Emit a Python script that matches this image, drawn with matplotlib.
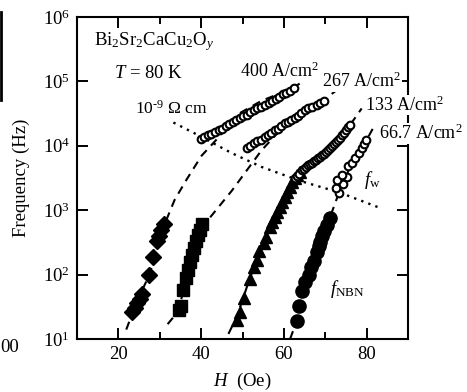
import matplotlib
matplotlib.use("Agg")
import matplotlib.pyplot as plt
from matplotlib.lines import Line2D

plt.rcParams['font.family'] = ['Liberation Serif', 'DejaVu Serif']
plt.rcParams['mathtext.fontset'] = 'custom'
plt.rcParams['mathtext.rm'] = 'Liberation Serif'
plt.rcParams['mathtext.it'] = 'Liberation Serif:italic'
plt.rcParams['mathtext.bf'] = 'Liberation Serif:bold'

# ---- data (H in Oe, f in Hz) ----
# f_NBN, filled markers
diam_H = [23.3, 23.9, 24.5, 25.2, 25.8, 27.5, 28.4, 29.3, 29.9, 30.4, 31.0]
diam_f = [26, 30, 36, 42, 50, 100, 185, 330, 400, 500, 600]
sq_H = [34.6, 35.1, 35.6, 36.3, 36.8, 37.3, 37.8, 38.3, 38.8, 39.3, 39.8, 40.3]
sq_f = [28, 33, 58, 88, 120, 155, 200, 260, 330, 410, 500, 600]
tri_H = [48.6, 49.3, 50.3, 51.7, 52.7, 53.4, 54.1, 55.1, 55.8, 56.6, 57.2, 57.8, 58.4,
         59.0, 59.6, 60.2, 60.8, 61.4, 62.0, 62.6, 63.2, 63.8]
tri_f = [20, 26, 43, 85, 130, 170, 230, 315, 390, 540, 650, 790, 950,
         1130, 1350, 1600, 1950, 2300, 2700, 3150, 3500, 3900]
fc_H = [63.1, 63.6, 64.3, 65.0, 66.0, 66.5, 67.2, 67.9, 68.4, 68.7, 69.2, 69.6, 70.4, 71.1]
fc_f = [19, 32, 55, 76, 100, 130, 160, 228, 280, 325, 400, 480, 590, 760]

# f_w, open circles
o400_H = [40.0, 40.8, 41.6, 42.5, 43.3, 44.2, 45.0, 45.9, 46.8, 47.6, 48.5, 49.3, 50.2, 51.0,
          51.9, 52.8, 53.6, 54.5, 55.4, 56.3, 57.1, 58.0, 58.9, 59.8, 60.6, 61.5, 62.4]
o400_f = [12600, 13500, 14500, 15500, 16500, 17500, 18500, 20500, 22000, 23500, 25000, 27000,
          29000, 30500, 33000, 35500, 38000, 40500, 43500, 47000, 50000, 54000, 58000, 63000,
          67000, 72000, 78000]
o267_H = [51.0, 51.9, 52.9, 53.6, 54.4, 55.4, 56.2, 57.0, 57.8, 58.6, 59.4, 60.2, 61.0,
          61.8, 62.6, 63.4, 64.2, 65.0, 65.9, 66.8, 67.9, 68.8, 69.6]
o267_f = [9100, 10000, 11000, 11800, 12500, 13500, 14800, 16000, 17400, 18500, 20000, 22400,
          23500, 25500, 27500, 29500, 32000, 35500, 38000, 40500, 42500, 46000, 50000]
o133_H = [62.6, 63.2, 63.6, 64.3, 64.8, 65.3, 65.8, 66.2, 66.7, 67.2, 67.7, 68.2, 68.7,
          69.2, 69.7, 70.1, 70.6, 71.1, 71.6, 72.1, 72.6, 73.0, 73.5, 74.0, 74.5, 75.0, 75.5, 75.9]
o133_f = [3150, 3400, 3650, 4150, 4400, 4700, 4950, 5250, 5500, 5750, 6100, 6450, 6750,
          7100, 7500, 7900, 8500, 9100, 9800, 10500, 11400, 12300, 13400, 14500, 15900, 17400,
          19300, 21400]
o67_H = [73.3, 72.5, 74.2, 72.8, 75.2, 74.0, 75.4, 76.4, 77.1, 78.1, 78.8, 79.4, 79.9]
o67_f = [1860, 2240, 2570, 2950, 3300, 3550, 4900, 5400, 6400, 7700, 9200, 10500, 12300]

# dashed guide curves
c400_H = [21.9, 24.4, 27.5, 31.1, 33.6, 36.5, 40.1, 44.2, 49.1, 54.6, 58.5, 62.6, 65.5]
c400_f = [14, 37, 100, 590, 1450, 3000, 7000, 13500, 31500, 50000, 63000, 83000, 107000]
c267_H = [31.9, 34.5, 37.7, 41.3, 47.4, 54.6, 59.5, 64.3, 69.2, 73.3]
c267_f = [17, 27, 190, 660, 2000, 8500, 18600, 31600, 49000, 77600]
c133_H = [46.6, 48.6, 51.7, 56.6, 61.4, 64.3, 69.2, 74.0, 76.4, 78.8]
c133_f = [12, 22, 85, 540, 2300, 4470, 7600, 14500, 22900, 38000]
c67_H = [61.5, 63.1, 65.0, 67.2, 69.2, 71.1, 73.3, 76.4, 79.8, 81.6]
c67_f = [10, 19, 76, 160, 400, 760, 1860, 5400, 11700, 19000]

# 10^-9 Ohm cm criterion (dotted)
crit_H = [33.3, 39.4, 47.4, 54.6, 64.3, 73.3, 83.0]
crit_f = [23000, 14500, 7700, 4700, 2800, 1900, 1100]

fig = plt.figure(figsize=(4.67, 3.92), dpi=100)
ax = fig.add_axes([77/467, 1-339/392, (408-77)/467, (339-17)/392])

dash = dict(color='black', lw=1.5, ls=(0, (4, 3)))
for H, f in [(c400_H, c400_f), (c267_H, c267_f), (c133_H, c133_f), (c67_H, c67_f)]:
    ax.plot(H, f, **dash)
ax.plot(crit_H, crit_f, color='black', lw=1.7, ls=(0, (1, 2.2)))

ax.plot(diam_H, diam_f, 'D', color='black', ms=8.5, ls='none')
ax.plot(sq_H, sq_f, 's', color='black', ms=8.5, ls='none')
ax.plot(tri_H, tri_f, '^', color='black', ms=9, ls='none')
ax.plot(fc_H, fc_f, 'o', color='black', ms=9.5, ls='none')
for H, f in [(o400_H, o400_f), (o267_H, o267_f), (o133_H, o133_f), (o67_H, o67_f)]:
    ax.plot(H, f, 'o', mfc='white', mec='black', mew=1.5, ms=5.5, ls='none')

ax.set_yscale('log')
ax.set_xlim(10, 90)
ax.set_ylim(10, 1e6)
ax.set_xticks([20, 40, 60, 80])
ax.set_xticks([10, 30, 50, 70, 90], minor=True)
ax.yaxis.set_minor_locator(matplotlib.ticker.NullLocator())
ax.tick_params(which='both', direction='in', top=True, right=True, labelsize=13.5, width=1.4, pad=5)
ax.tick_params(which='major', length=8)
ax.tick_params(which='minor', length=5)
for s in ax.spines.values():
    s.set_linewidth(1.5)

ax.set_xlabel(r'$H$  (Oe)', fontsize=13.5, labelpad=6)
ax.set_ylabel('Frequency (Hz)', fontsize=13.5, labelpad=9)

fs = 13.5
lfs = 13
ax.text(14.2, 4.1e5, r'Bi$_2$Sr$_2$CaCu$_2$O$_y$', fontsize=fs, va='center', ha='left')
ax.text(19.0, 1.32e5, r'$T$ = 80 K', fontsize=fs, va='center', ha='left')
ax.text(23.9, 3.8e4, r'10$^{\text{-9}}$ $\Omega$ cm', fontsize=12.5, va='center', ha='left')
box = dict(facecolor='white', edgecolor='none', pad=0.5)
ax.text(49.3, 1.41e5, r'400 A/cm$^2$', fontsize=lfs, va='center', ha='left', bbox=box, clip_on=False)
ax.text(69.2, 1.0e5, r'267 A/cm$^2$', fontsize=lfs, va='center', ha='left', bbox=box, clip_on=False, zorder=5)
ax.text(79.6, 4.3e4, r'133 A/cm$^2$', fontsize=lfs, va='center', ha='left', bbox=box, clip_on=False, zorder=5)
ax.text(82.9, 1.55e4, r'66.7 A/cm$^2$', fontsize=lfs, va='center', ha='left', bbox=box, clip_on=False, zorder=5)
ax.text(79.3, 2950, r'$f_{\mathrm{w}}$', fontsize=fs, va='center', ha='left')
ax.text(71.1, 59, r'$f_{\mathrm{NBN}}$', fontsize=fs, va='center', ha='left')

# remnants of adjacent panel at the left edge
fig.add_artist(Line2D([1/467, 1/467], [1-12/392, 1-100/392], color='black', lw=2))
fig.text(0/467, 1-347/392, '00', fontsize=13.5, va='center', ha='left')

fig.savefig('out.png', dpi=100)
